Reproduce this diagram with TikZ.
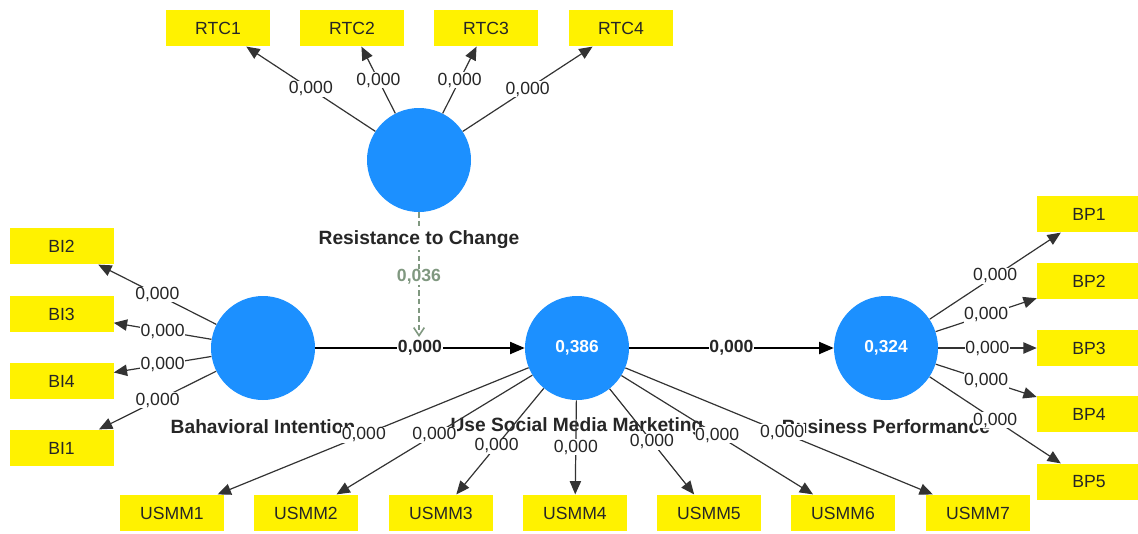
\documentclass[tikz,border=0pt]{standalone}
\usepackage{fontspec}
\setmainfont{Liberation Sans}
\usetikzlibrary{arrows.meta}
\definecolor{lvblue}{RGB}{28,144,255}
\definecolor{modgreen}{RGB}{128,152,128}
\tikzset{
	ind/.style={fill=yellow,minimum width=78pt,minimum height=27.5pt,inner sep=0,text=black!85},
	lv/.style={circle,fill=lvblue,minimum size=78pt,inner sep=0,text=white,font=\fontsize{13}{15}\selectfont\bfseries},
	lvtxt/.style={inner sep=1pt,text=black!85,font=\fontsize{14.4}{17}\selectfont\bfseries},
	ld/.style={draw=black!80,line width=0.9pt,-{Triangle[length=10pt,width=8.5pt]}},
	sp/.style={draw=black,line width=1.5pt,-{Triangle[length=11pt,width=9pt]}},
	wt/.style={fill=white,inner sep=0.5pt,text=black!85},
	mod/.style={draw=modgreen,line width=1.2pt,dash pattern=on 4pt off 2.5pt,-{Straight Barb[length=6pt,width=8pt]}}
}
\begin{document}
\begin{tikzpicture}[x=0.75pt,y=-0.75pt,font=\fontsize{13.2}{15}\selectfont]
	\useasboundingbox (0,0) rectangle (1138,533);
	\node[lv] (rtc) at (419,160) {};
	\node[lv] (bi) at (263,348) {};
	\node[lv] (usmm) at (577,348) {0,386};
	\node[lv] (bp) at (886,348) {0,324};
	\node[ind] (rtc1) at (218,28) {RTC1};
	\node[ind] (rtc2) at (352,28) {RTC2};
	\node[ind] (rtc3) at (486,28) {RTC3};
	\node[ind] (rtc4) at (621,28) {RTC4};
	\node[ind] (bi2) at (61.5,246) {BI2};
	\node[ind] (bi3) at (61.5,314) {BI3};
	\node[ind] (bi4) at (61.5,381) {BI4};
	\node[ind] (bi1) at (61.5,448) {BI1};
	\node[ind] (bp1) at (1089,214) {BP1};
	\node[ind] (bp2) at (1089,281) {BP2};
	\node[ind] (bp3) at (1089,348) {BP3};
	\node[ind] (bp4) at (1089,414) {BP4};
	\node[ind] (bp5) at (1089,482) {BP5};
	\node[ind] (usmm1) at (172,513) {USMM1};
	\node[ind] (usmm2) at (306,513) {USMM2};
	\node[ind] (usmm3) at (441,513) {USMM3};
	\node[ind] (usmm4) at (575,513) {USMM4};
	\node[ind] (usmm5) at (709,513) {USMM5};
	\node[ind] (usmm6) at (843,513) {USMM6};
	\node[ind] (usmm7) at (978,513) {USMM7};
	\node[lvtxt] (tbi) at (263,427) {Bahavioral Intention};
	\node[lvtxt] (tusmm) at (577,427) {Use Social Media Marketing};
	\node[lvtxt] (tbp) at (886,427) {Business Performance};
	\coordinate (m) at (419,337);
	\draw[mod] (rtc) -- (m) node[wt,pos=0.52,text=modgreen,font=\fontsize{13.2}{15}\selectfont\bfseries] {0,036};
	\node[lvtxt,fill=white] (trtc) at (419,240) {Resistance to Change};
	\draw[ld] (rtc) -- node[wt] {0,000} (rtc1);
	\draw[ld] (rtc) -- node[wt] {0,000} (rtc2);
	\draw[ld] (rtc) -- node[wt] {0,000} (rtc3);
	\draw[ld] (rtc) -- node[wt] {0,000} (rtc4);
	\draw[ld] (bi) -- node[wt] {0,000} (bi2);
	\draw[ld] (bi) -- node[wt] {0,000} (bi3);
	\draw[ld] (bi) -- node[wt] {0,000} (bi4);
	\draw[ld] (bi) -- node[wt] {0,000} (bi1);
	\draw[ld] (bp) -- node[wt] {0,000} (bp1);
	\draw[ld] (bp) -- node[wt] {0,000} (bp2);
	\draw[ld] (bp) -- node[wt] {0,000} (bp3);
	\draw[ld] (bp) -- node[wt] {0,000} (bp4);
	\draw[ld] (bp) -- node[wt] {0,000} (bp5);
	\draw[ld] (usmm) -- node[wt,pos=0.53] {0,000} (usmm1);
	\draw[ld] (usmm) -- node[wt,pos=0.5] {0,000} (usmm2);
	\draw[ld] (usmm) -- node[wt,pos=0.54] {0,000} (usmm3);
	\draw[ld] (usmm) -- node[wt] {0,000} (usmm4);
	\draw[ld] (usmm) -- node[wt] {0,000} (usmm5);
	\draw[ld] (usmm) -- node[wt] {0,000} (usmm6);
	\draw[ld] (usmm) -- node[wt,pos=0.51] {0,000} (usmm7);
	\draw[sp] (bi) -- node[wt,font=\fontsize{13.2}{15}\selectfont\bfseries] {0,000} (usmm);
	\draw[sp] (usmm) -- node[wt,font=\fontsize{13.2}{15}\selectfont\bfseries] {0,000} (bp);
\end{tikzpicture}
\end{document}
